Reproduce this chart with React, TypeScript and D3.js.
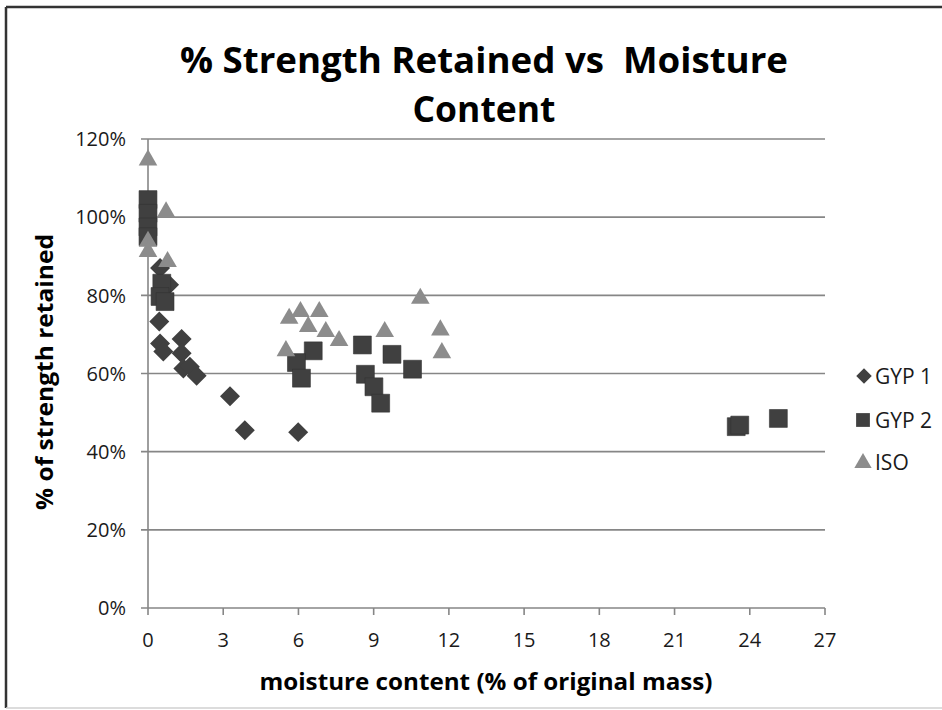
import React from "react";
import * as d3 from "d3";

const gyp1X = [0.48, 0.84, 0.45, 0.48, 0.61, 1.34, 1.34, 1.41, 1.67, 1.94, 3.27, 3.86, 5.99];
const gyp1Y = [0.87, 0.827, 0.733, 0.677, 0.656, 0.688, 0.652, 0.613, 0.617, 0.594, 0.542, 0.455, 0.45];

const gyp2X = [0, 0, 0, 0, 0.55, 0.48, 0.68, 6.59, 5.92, 6.12, 8.55, 9.73, 8.67, 9.01, 9.28, 10.55, 23.46, 23.6, 25.14];
const gyp2Y = [1.045, 1.01, 0.975, 0.95, 0.831, 0.797, 0.784, 0.658, 0.628, 0.588, 0.673, 0.649, 0.598, 0.566, 0.524, 0.611, 0.464, 0.468, 0.485];

const isoX = [0, 0.72, 0, 0, 0.78, 5.63, 6.08, 6.83, 6.39, 7.09, 7.62, 5.5, 9.44, 10.86, 11.66, 11.72];
const isoY = [1.146, 1.013, 0.938, 0.912, 0.886, 0.741, 0.758, 0.758, 0.72, 0.707, 0.684, 0.658, 0.707, 0.792, 0.711, 0.653];

const xTicks = [0, 3, 6, 9, 12, 15, 18, 21, 24, 27];
const yTicks = [0, 0.2, 0.4, 0.6, 0.8, 1.0, 1.2];
const legendLabels = ["GYP 1", "GYP 2", "ISO"];

const W = 942;
const H = 710;
const FONT = "'Open Sans', 'Noto Sans', sans-serif";

export default function App() {
  const x = d3.scaleLinear().domain([0, 27]).range([148, 825]);
  const y = d3.scaleLinear().domain([0, 1.2]).range([608, 139]);
  const pct = d3.format(".0%");

  const diamond = d3.symbol().type(d3.symbolSquare).size(200)()!;
  const square = d3.symbol().type(d3.symbolSquare).size(320)()!;
  const triangle = d3.symbol().type(d3.symbolTriangle).size(150)()!;

  const dark = "#404040";
  const light = "#8c8c8c";
  const grid = "#868686";

  const gyp1 = gyp1X.map((v, i) => [v, gyp1Y[i]]);
  const gyp2 = gyp2X.map((v, i) => [v, gyp2Y[i]]);
  const iso = isoX.map((v, i) => [v, isoY[i]]);

  const legendY = [376, 420, 462];

  return (
    <svg width={W} height={H} style={{ position: "absolute", left: 0, top: 0, background: "#fff" }}>
      <rect x={0} y={0} width={W} height={H} fill="#fff" />
      {/* frame */}
      <line x1={6} y1={7} x2={W} y2={7} stroke="#333" strokeWidth={2.5} />
      <line x1={6} y1={7} x2={6} y2={708} stroke="#333" strokeWidth={2.5} />
      <line x1={6} y1={708} x2={W} y2={708} stroke="#d0d0d0" strokeWidth={1.5} />

      {/* title */}
      <text x={484} y={73} textAnchor="middle" fontFamily={FONT} fontWeight="bold" fontSize={35} fill="#000"
        textLength={608} lengthAdjust="spacingAndGlyphs" style={{ whiteSpace: "pre" }}>{"% Strength Retained vs  Moisture"}</text>
      <text x={484} y={122} textAnchor="middle" fontFamily={FONT} fontWeight="bold" fontSize={35} fill="#000"
        textLength={143} lengthAdjust="spacingAndGlyphs">Content</text>

      {/* gridlines */}
      {yTicks.map((t) => (
        <g key={t}>
          <line x1={141} x2={x(27)} y1={y(t)} y2={y(t)} stroke={grid} strokeWidth={1.6} />
          <text x={126} y={y(t)} dy="0.36em" textAnchor="end" fontFamily={FONT} fontSize={20} fill="#1a1a1a">{pct(t)}</text>
        </g>
      ))}
      {/* axes */}
      <line x1={x(0)} x2={x(0)} y1={y(1.2)} y2={y(0)} stroke={grid} strokeWidth={1.6} />
      {xTicks.map((t) => (
        <g key={t}>
          <line x1={x(t)} x2={x(t)} y1={y(0)} y2={y(0) + 7} stroke={grid} strokeWidth={1.6} />
          <text x={x(t)} y={647} textAnchor="middle" fontFamily={FONT} fontSize={20} fill="#1a1a1a">{t}</text>
        </g>
      ))}

      {/* axis titles */}
      <text x={486} y={690} textAnchor="middle" fontFamily={FONT} fontWeight="bold" fontSize={24} fill="#000"
        textLength={453} lengthAdjust="spacingAndGlyphs">moisture content (% of original mass)</text>
      <text transform={`translate(53,372) rotate(-90)`} textAnchor="middle" fontFamily={FONT} fontWeight="bold" fontSize={24} fill="#000"
        textLength={276} lengthAdjust="spacingAndGlyphs">% of strength retained</text>

      {/* series */}
      {gyp1.map((d, i) => (
        <path key={"a" + i} d={diamond} transform={`translate(${x(d[0])},${y(d[1])}) rotate(45)`} fill={dark} />
      ))}
      {gyp2.map((d, i) => (
        <path key={"b" + i} d={square} transform={`translate(${x(d[0])},${y(d[1])})`} fill={dark} stroke="#333" strokeWidth={0.6} />
      ))}
      {iso.map((d, i) => (
        <path key={"c" + i} d={triangle} transform={`translate(${x(d[0])},${y(d[1])})`} fill={light} />
      ))}

      {/* legend */}
      <path d={d3.symbol().type(d3.symbolSquare).size(120)()!} transform={`translate(864,${legendY[0]}) rotate(45)`} fill={dark} />
      <path d={d3.symbol().type(d3.symbolSquare).size(190)()!} transform={`translate(863,${legendY[1]})`} fill={dark} />
      <path d={d3.symbol().type(d3.symbolTriangle).size(130)()!} transform={`translate(863,${legendY[2] + 1})`} fill={light} />
      {legendLabels.map((l, i) => (
        <text key={l} x={875} y={legendY[i]} dy="0.36em" fontFamily={FONT} fontSize={21} fill="#1a1a1a">{l}</text>
      ))}
    </svg>
  );
}
